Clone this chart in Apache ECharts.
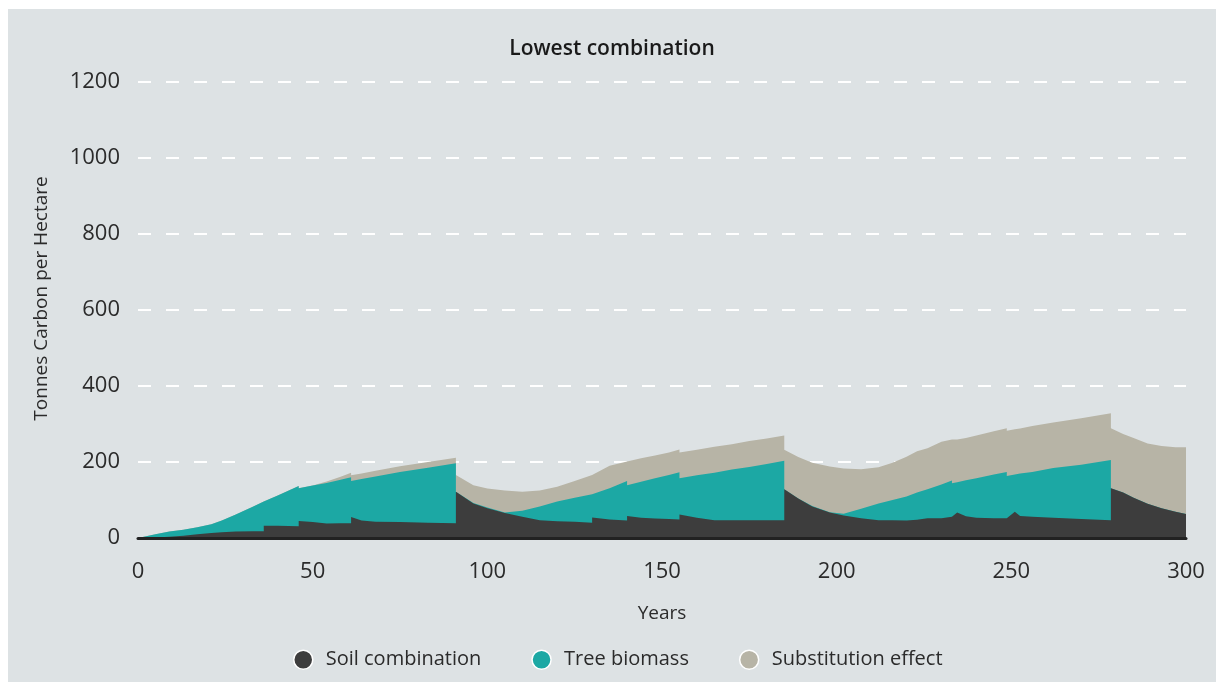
<!DOCTYPE html>
<html>
<head>
<meta charset="utf-8">
<script src="https://cdn.jsdelivr.net/npm/echarts@6/dist/echarts.min.js"></script>
<style>
  html, body { margin: 0; padding: 0; background: #ffffff; }
  #wrap { position: relative; width: 1216px; height: 682px; background: #ffffff; overflow: hidden; }
  #chart { position: absolute; left: 8px; top: 9px; width: 1208px; height: 673px; }
</style>
</head>
<body>
<div id="wrap"><div id="chart"></div></div>
<script>
// Years (duplicated years mark instantaneous jumps: thinnings / harvests)
const years = [
  0, 5, 9, 13, 17, 21, 24, 28, 33, 36, 36, 40, 46, 46, 50, 54, 58, 61, 61, 64, 68, 75, 83, 91, 91,
  96, 100, 105, 110, 115, 120, 125, 130, 130, 135, 140, 140, 144, 148, 152, 155, 155, 160, 165, 170, 175, 180, 185, 185,
  189, 193, 198, 202, 207, 212, 216, 220, 223, 226, 230, 233, 233, 234.5, 237, 240, 245, 248.7, 248.7, 251, 252.5, 256, 262, 270, 278.5, 278.5,
  282, 285, 289, 293, 297, 300
];
// Soil combination (t C / ha)
const soil = [
  0, 1, 3, 6, 10, 13, 15, 17, 18, 18, 32, 32, 31, 45, 42, 38, 39, 39, 55, 46, 43, 42, 40, 39, 122,
  91, 78, 66, 56, 47, 44, 43, 40, 54, 49, 46, 58, 53, 51, 50, 49, 62, 53, 47, 47, 47, 47, 47, 128,
  104, 83, 67, 59, 52, 47, 47, 46, 48, 52, 52, 56, 58, 67, 57, 53, 52, 52, 55, 69, 58, 56, 53, 50, 47, 131,
  120, 106, 90, 78, 69, 63
];
// Tree biomass (t C / ha)
const tree = [
  0, 9, 14, 16, 18, 23, 31, 45, 65, 78, 64, 80, 106, 86, 96, 107, 114, 121, 95, 109, 119, 132, 145, 158, 0,
  1, 2, 1, 16, 36, 52, 63, 75, 59, 82, 104, 81, 95, 106, 116, 124, 95, 112, 125, 133, 140, 148, 156, 0,
  0, 1, 1, 5, 25, 44, 53, 63, 72, 76, 89, 95, 86, 80, 95, 104, 115, 122, 108, 98, 112, 118, 131, 143, 158, 0,
  0, 0, 0, 0, 0, 0
];
// Substitution effect (t C / ha)
const subst = [
  0, 0, 0, 0, 0, 0, 0, 0, 0, 0, 0, 0, 0, 0, 0, 4, 8, 12, 15, 15, 15, 15, 15, 14, 44,
  47, 50, 58, 50, 42, 39, 44, 51, 53, 59, 51, 62, 62, 60, 59, 60, 68, 67, 68, 67, 68, 67, 67, 104,
  109, 114, 120, 119, 104, 95, 98, 105, 108, 108, 112, 108, 115, 112, 111, 113, 114, 115, 119, 119, 118, 121, 120, 122, 123, 158,
  154, 157, 159, 164, 170, 176
];
const seriesNames = ['Soil combination', 'Tree biomass', 'Substitution effect'];
const colors = ['#3d3d3d', '#1ca8a4', '#b7b4a6'];
const yTicks = [0, 200, 400, 600, 800, 1000, 1200];
const xTicks = [0, 50, 100, 150, 200, 250, 300];

// Stack the layers: each area is drawn from the axis up to its cumulative top.
const values = [soil, tree, subst];
const cumulative = values.map((_, k) =>
  years.map((y, i) => {
    let s = 0;
    for (let j = 0; j <= k; j++) s += values[j][i];
    return [y, s];
  })
);

const chart = echarts.init(document.getElementById('chart'), null, { renderer: 'canvas' });
const font = 'Open Sans, Lato, sans-serif';

chart.setOption({
  backgroundColor: '#dde2e4',
  animation: false,
  textStyle: { fontFamily: font },
  title: {
    text: 'Lowest combination',
    left: 'center',
    top: 25,
    textStyle: { fontFamily: font, fontSize: 21, fontWeight: 600, color: '#1a1a1a' }
  },
  graphic: [{
    type: 'text',
    rotation: Math.PI / 2,
    x: 34,
    y: 289.5,
    style: {
      text: 'Tonnes Carbon per Hectare',
      fill: '#2b2b2b',
      font: '19px "Open Sans", Lato, sans-serif',
      align: 'center',
      verticalAlign: 'middle'
    }
  }],
  grid: { left: 130, right: 30, top: 73, bottom: 144, containLabel: false },
  legend: {
    bottom: 7,
    left: 280,
    icon: 'circle',
    itemWidth: 19,
    itemHeight: 19,
    itemGap: 50,
    itemStyle: { borderColor: '#ffffff', borderWidth: 1.5 },
    textStyle: { fontFamily: font, fontSize: 20, color: '#2b2b2b', padding: [0, 0, 0, 8] },
    data: seriesNames
  },
  xAxis: {
    type: 'value',
    min: xTicks[0],
    max: xTicks[xTicks.length - 1],
    interval: 50,
    name: 'Years',
    nameLocation: 'middle',
    nameGap: 66,
    nameTextStyle: { fontFamily: font, fontSize: 19, color: '#2b2b2b' },
    axisLine: { show: true, onZero: true, lineStyle: { color: '#222222', width: 3 } },
    axisTick: { show: false },
    splitLine: { show: false },
    axisLabel: { fontFamily: font, fontSize: 22, color: '#2b2b2b', margin: 23 },
    z: 10
  },
  yAxis: {
    type: 'value',
    min: yTicks[0],
    max: yTicks[yTicks.length - 1],
    interval: 200,
    axisLine: { show: false },
    axisTick: { show: false },
    axisLabel: { fontFamily: font, fontSize: 22, color: '#2b2b2b', margin: 18, formatter: v => String(v) },
    splitLine: {
      show: true,
      lineStyle: { color: '#ffffff', width: 2, type: [13, 15] }
    }
  },
  series: seriesNames.map((name, k) => ({
    name: name,
    type: 'line',
    data: cumulative[k],
    showSymbol: false,
    symbol: 'none',
    smooth: false,
    lineStyle: { width: 0, color: colors[k] },
    itemStyle: { color: colors[k] },
    areaStyle: { color: colors[k], opacity: 1, origin: 'start' },
    emphasis: { disabled: true },
    z: 5 - k
  }))
});
</script>
</body>
</html>
